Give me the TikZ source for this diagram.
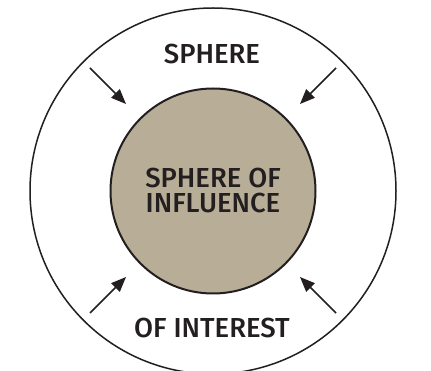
\documentclass[tikz,border=0pt]{standalone}
\usepackage{fontspec}
\setmainfont{Fira Sans}[UprightFont=* Medium]
\usetikzlibrary{arrows.meta}
\definecolor{ink}{HTML}{231F20}
\definecolor{sand}{HTML}{B8AD96}
\begin{document}
\begin{tikzpicture}[x=1pt,y=-1pt,
  ring/.style={circle,draw=ink,line width=1.5pt,minimum size=366pt,inner sep=0pt},
  core/.style={circle,draw=ink,fill=sand,line width=2pt,minimum size=205pt,inner sep=0pt,
    font=\fontsize{27.5}{25}\selectfont,text=ink,align=center},
  lbl/.style={font=\fontsize{27.5}{25}\selectfont,text=ink,inner sep=0pt},
  push/.style={draw=ink,line width=1.5pt,-{Triangle[length=15pt,width=12pt]}}]
\useasboundingbox (0,0) rectangle (431,371);
\fill[white] (0,0) rectangle (431,371);
\node[ring] (outer) at (213,191) {};
\node[core] (inner) at (213,191) {SPHERE OF\\INFLUENCE};
\node[lbl] (top) at (212,54.5) {SPHERE};
\node[lbl] (bottom) at (212,327.5) {OF INTEREST};
\coordinate (tl) at (90,68);
\coordinate (tle) at (126,104);
\coordinate (tr) at (336,68);
\coordinate (tre) at (300,104);
\coordinate (bl) at (90,313);
\coordinate (ble) at (126,277);
\coordinate (br) at (336,313);
\coordinate (bre) at (300,277);
\draw[push] (tl) -- (tle);
\draw[push] (tr) -- (tre);
\draw[push] (bl) -- (ble);
\draw[push] (br) -- (bre);
\end{tikzpicture}
\end{document}
